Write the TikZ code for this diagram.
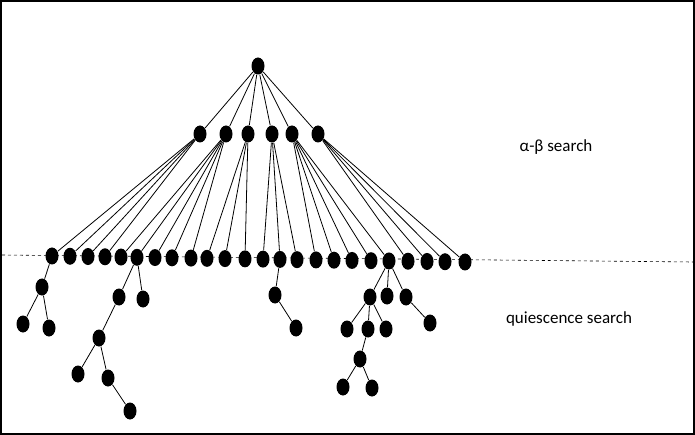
\documentclass[tikz,border=0pt]{standalone}
\usepackage{fontspec}
\setmainfont{Carlito}
\usetikzlibrary{shapes}

\begin{document}
\begin{tikzpicture}[x=1pt, y=-1pt, line width=0.8pt,
dot/.style = {ellipse, fill=black, inner sep=0pt, minimum width=13pt, minimum height=17pt},
label/.style = {font=\fontsize{17}{20}\selectfont}]

\draw[line width=2pt] (1,1) rectangle (694,434);

\draw[dashed, line width=0.6pt] (2,255) -- (693,262);

% root and first ply
\node[dot] (r) at (258,66) {};
\node[dot] (m1) at (200,134) {};
\node[dot] (m2) at (226,134) {};
\node[dot] (m3) at (248,134) {};
\node[dot] (m4) at (272,134) {};
\node[dot] (m5) at (292,134) {};
\node[dot] (m6) at (318,134) {};
\foreach \i in {1,...,6} \draw (r) -- (m\i);

% horizon leaves
\foreach \x [count=\i] in {52,70,88,105,121,137,155,172,191,207,225,245,263,280,297,316,334,352,371,389,408,427,445,465}
  \node[dot] (l\i) at (\x,{256+(\i-1)*6/23}) {};

\foreach \i in {1,...,4} \draw (m1) -- (l\i);
\foreach \i in {5,...,9} \draw (m2) -- (l\i);
\foreach \i in {10,...,12} \draw (m3) -- (l\i);
\foreach \i in {13,...,15} \draw (m4) -- (l\i);
\foreach \i in {16,...,20} \draw (m5) -- (l\i);
\foreach \i in {21,...,24} \draw (m6) -- (l\i);

% quiescence trees
\node[dot] (a1) at (42,287) {};
\node[dot] (a2) at (23,324) {};
\node[dot] (a3) at (49,328) {};
\draw (l1) -- (a1) (a1) -- (a2) (a1) -- (a3);

\node[dot] (b1) at (119,297) {};
\node[dot] (b2) at (143,299) {};
\node[dot] (b3) at (99,338) {};
\node[dot] (b4) at (78,374) {};
\node[dot] (b5) at (108,378) {};
\node[dot] (b6) at (130,411) {};
\draw (l6) -- (b1) (l6) -- (b2) (b1) -- (b3) (b3) -- (b4) (b3) -- (b5) (b5) -- (b6);

\node[dot] (c1) at (275,295) {};
\node[dot] (c2) at (296,328) {};
\draw (l14) -- (c1) (c1) -- (c2);

\node[dot] (d1) at (370,297) {};
\node[dot] (d2) at (387,296) {};
\node[dot] (d3) at (406,297) {};
\node[dot] (d4) at (347,329) {};
\node[dot] (d5) at (368,329) {};
\node[dot] (d6) at (386,329) {};
\node[dot] (d7) at (430,323) {};
\node[dot] (d8) at (360,359) {};
\node[dot] (d9) at (343,387) {};
\node[dot] (d10) at (372,388) {};
\draw (l20) -- (d1) (l20) -- (d2) (l20) -- (d3);
\draw (d1) -- (d4) (d1) -- (d5) (d1) -- (d6) (d3) -- (d7);
\draw (d5) -- (d8) (d8) -- (d9) (d8) -- (d10);

\node[label] (ab) at (556,147) {α-β search};
\node[label] (qs) at (569,319) {quiescence search};
\end{tikzpicture}
\end{document}
